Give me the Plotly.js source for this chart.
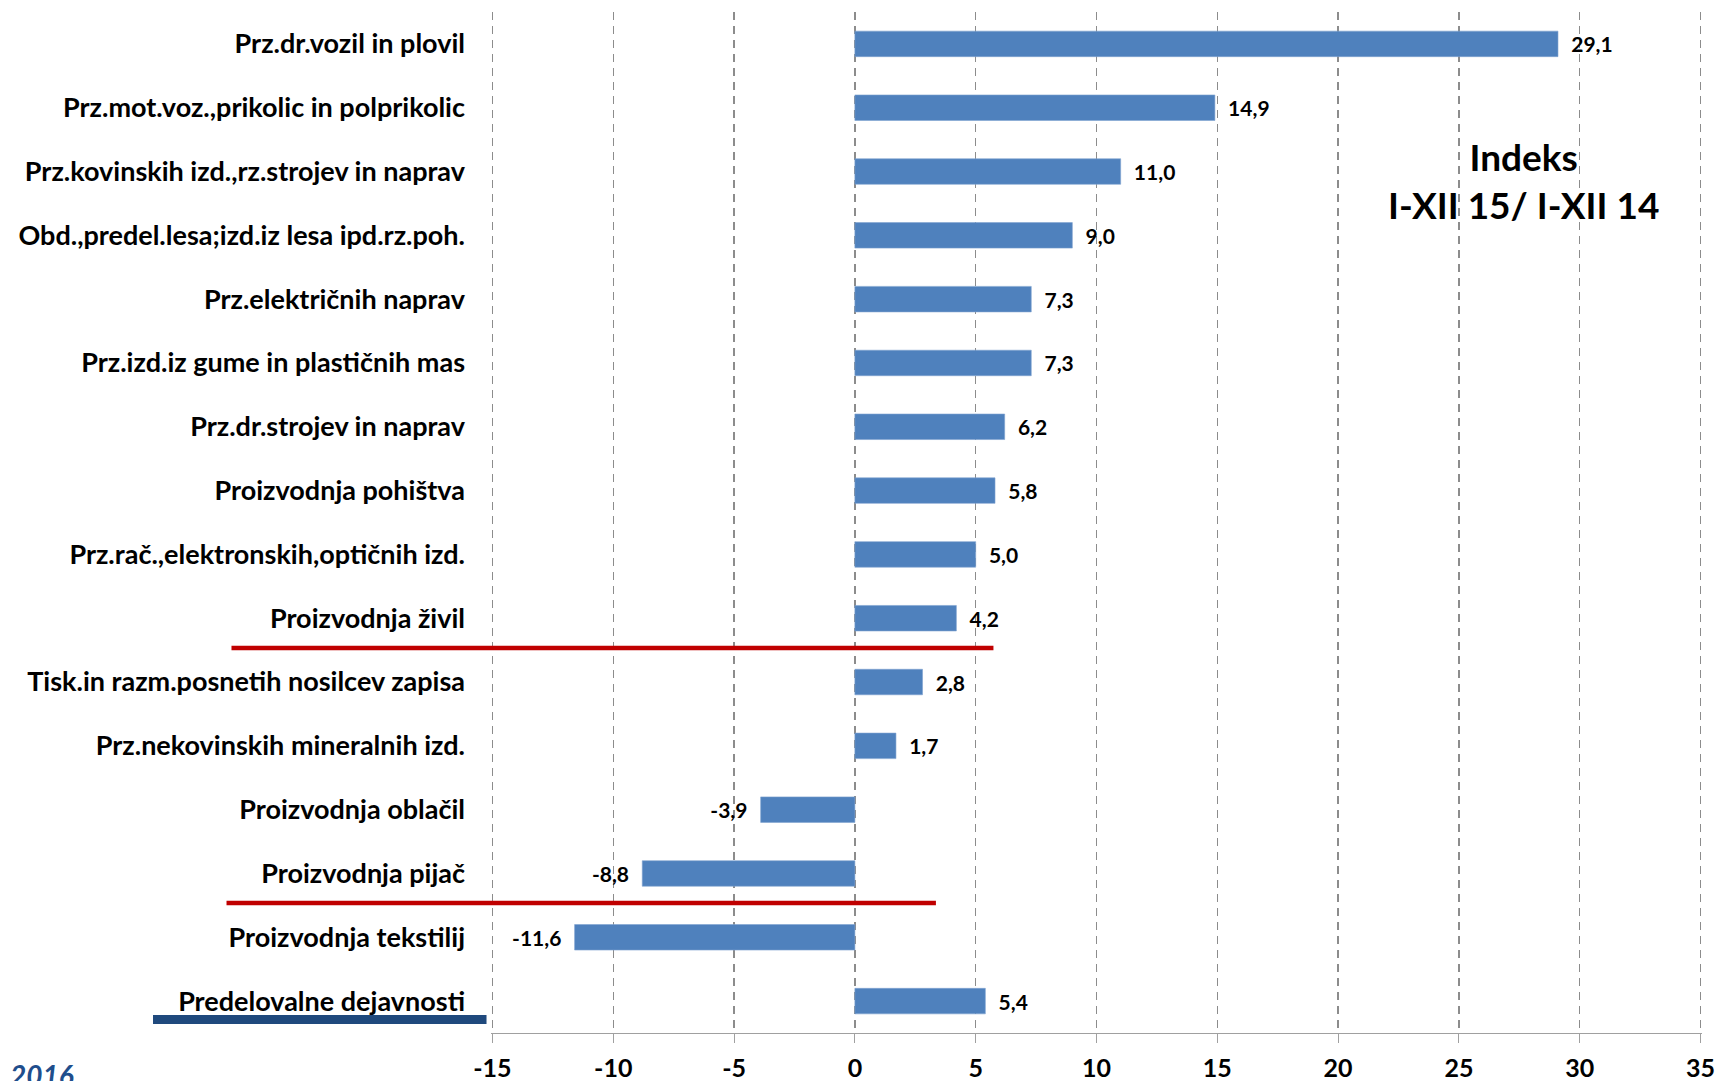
<!DOCTYPE html>
<html>
<head>
<meta charset="utf-8">
<script src="https://cdn.plot.ly/plotly-3.0.1.min.js"></script>
<style>
  html, body { margin: 0; padding: 0; background: #fff; }
  #chart { width: 1717px; height: 1081px; }
</style>
</head>
<body>
<div id="chart"></div>
<script>
// categories top to bottom, as in the picture
var categories = [
  'Prz.dr.vozil in plovil',
  'Prz.mot.voz.,prikolic in polprikolic',
  'Prz.kovinskih izd.,rz.strojev in naprav',
  'Obd.,predel.lesa;izd.iz lesa ipd.rz.poh.',
  'Prz.električnih naprav',
  'Prz.izd.iz gume in plastičnih mas',
  'Prz.dr.strojev in naprav',
  'Proizvodnja pohištva',
  'Prz.rač.,elektronskih,optičnih izd.',
  'Proizvodnja živil',
  'Tisk.in razm.posnetih nosilcev zapisa',
  'Prz.nekovinskih mineralnih izd.',
  'Proizvodnja oblačil',
  'Proizvodnja pijač',
  'Proizvodnja tekstilij',
  'Predelovalne dejavnosti'
];
var values = [29.1, 14.9, 11.0, 9.0, 7.3, 7.3, 6.2, 5.8, 5.0, 4.2, 2.8, 1.7, -3.9, -8.8, -11.6, 5.4];
var xTicks = [-15, -10, -5, 0, 5, 10, 15, 20, 25, 30, 35];

var titleLines = ['Indeks', 'I-XII 15/ I-XII 14'];
var yearNote = '2016';

// data labels with decimal comma, padded away from the bar end
var labels = values.map(function (v) {
  var s = v.toFixed(1).replace('.', ',');
  return v < 0 ? s + '\u00a0\u00a0' : '\u00a0\u00a0' + s;
});

var FONT = 'Lato, "Open Sans", sans-serif';

var trace = {
  type: 'bar',
  orientation: 'h',
  y: categories,
  x: values,
  text: labels,
  textposition: 'outside',
  cliponaxis: false,
  textfont: { family: FONT, size: 21, color: '#000', weight: 700 },
  marker: { color: '#4f81bd', line: { color: '#7fa3d0', width: 0.6 } },
  hoverinfo: 'x+y'
};

var layout = {
  width: 1717,
  height: 1081,
  margin: { l: 491, r: 15, t: 12, b: 48 },
  paper_bgcolor: '#fff',
  plot_bgcolor: '#fff',
  showlegend: false,
  bargap: 0.6,
  font: { family: FONT, color: '#000' },
  xaxis: {
    // a hair of padding so the -15 and 35 gridlines are kept
    range: [-15.06, 35.06],
    tickvals: xTicks,
    ticktext: xTicks.map(String),
    showgrid: true,
    gridcolor: '#8c8c8c',
    gridwidth: 1.5,
    griddash: '8px,6px',
    zeroline: false,
    showline: true,
    linecolor: '#a0a0a0',
    linewidth: 1.3,
    ticks: 'outside',
    ticklen: 9,
    tickcolor: '#a0a0a0',
    ticklabelstandoff: 4,
    tickfont: { family: FONT, size: 25, color: '#000', weight: 700 },
    fixedrange: true
  },
  yaxis: {
    type: 'category',
    range: [15.5, -0.5],
    showgrid: false,
    zeroline: false,
    showline: false,
    ticks: '',
    ticklabelstandoff: 25,
    tickfont: { family: FONT, size: 27, color: '#000', weight: 700 },
    fixedrange: true
  },
  // vertical axis line sitting on x = 0, ticks between categories
  yaxis2: {
    overlaying: 'y',
    anchor: 'free',
    position: 15.06 / 50.12,
    side: 'left',
    type: 'linear',
    range: [15.5, -0.5],
    tick0: -0.5,
    dtick: 1,
    showgrid: false,
    zeroline: false,
    showline: true,
    linecolor: '#a0a0a0',
    linewidth: 1.3,
    ticks: 'outside',
    ticklen: 9,
    tickcolor: '#a0a0a0',
    showticklabels: false,
    fixedrange: true
  },
  shapes: [
    { type: 'line', xref: 'paper', yref: 'paper', x0: -0.2143, x1: 0.4149, y0: 0.3771, y1: 0.3771,
      line: { color: '#c00000', width: 4.5 } },
    { type: 'line', xref: 'paper', yref: 'paper', x0: -0.2184, x1: 0.3674, y0: 0.1273, y1: 0.1273,
      line: { color: '#c00000', width: 4.5 } },
    { type: 'line', xref: 'paper', yref: 'paper', x0: -0.2791, x1: -0.0037, y0: 0.0132, y1: 0.0132,
      line: { color: '#1f497d', width: 9 } }
  ],
  annotations: [
    { xref: 'paper', yref: 'paper', x: 0.8528, y: 0.8345, xanchor: 'center', yanchor: 'middle',
      text: titleLines.join('<br>'), showarrow: false, align: 'center',
      font: { family: FONT, size: 37, color: '#000', weight: 700 } },
    { xref: 'paper', yref: 'paper', x: -0.3990, y: -0.023, xanchor: 'left', yanchor: 'top',
      text: '<i>' + yearNote + '</i>', showarrow: false,
      font: { family: FONT, size: 28, color: '#1f4e8c', weight: 700 } }
  ]
};

Plotly.newPlot('chart', [trace], layout, { displayModeBar: false, staticPlot: true });
</script>
</body>
</html>
